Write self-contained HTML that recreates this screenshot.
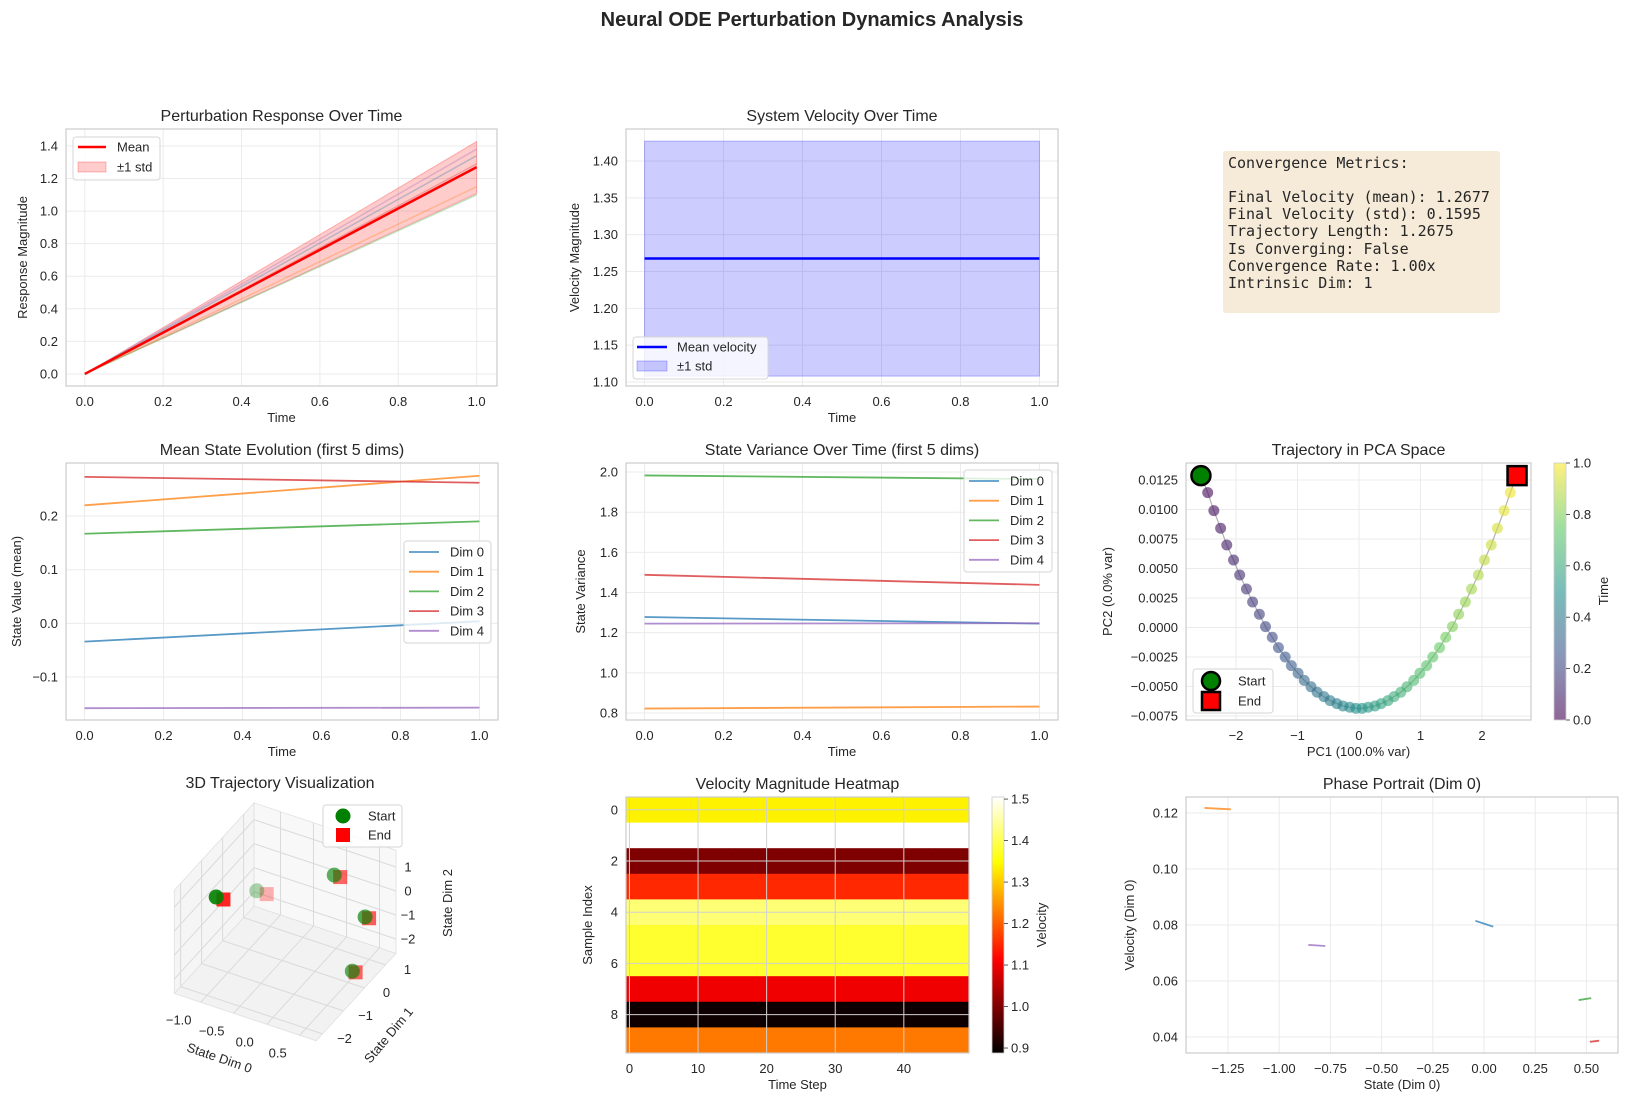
<!DOCTYPE html>
<html><head><meta charset="utf-8"><title>Neural ODE Perturbation Dynamics Analysis</title>
<style>
html,body{margin:0;padding:0;background:#fff;}
svg{display:block;font-family:"Liberation Sans",Arial,sans-serif;}
</style></head>
<body>
<svg id="fig" xmlns="http://www.w3.org/2000/svg" width="1625" height="1103" viewBox="0 0 1625 1103">
<rect x="0" y="0" width="1625" height="1103" fill="#ffffff"/>
<text x="812" y="26" text-anchor="middle" font-size="20" font-weight="bold" fill="#262626">Neural ODE Perturbation Dynamics Analysis</text>
<g>
<rect x="1223" y="151" width="277" height="162" rx="3" fill="#f6ebd8"/>
<g font-family="'DejaVu Sans Mono','Liberation Mono',monospace" font-size="15" fill="#262626">
<text x="1228" y="168">Convergence Metrics:</text>
<text x="1228" y="202">Final Velocity (mean): 1.2677</text>
<text x="1228" y="219">Final Velocity (std): 0.1595</text>
<text x="1228" y="236">Trajectory Length: 1.2675</text>
<text x="1228" y="254">Is Converging: False</text>
<text x="1228" y="271">Convergence Rate: 1.00x</text>
<text x="1228" y="288">Intrinsic Dim: 1</text>
</g></g>
</svg>
<script>
// ---------------- DATA ----------------
const respTimes = [0, 1];
const respMean = [0.0, 1.27];
const respLower = [0.0, 1.108];
const respUpper = [0.0, 1.427];
const respSampleEnds = [1.38, 1.34, 1.29, 1.15, 1.10];

const velTimes = [0, 1];
const velMean = [1.2677, 1.2677];
const velLower = [1.108, 1.108];
const velUpper = [1.427, 1.427];

const dimNames = ['Dim 0', 'Dim 1', 'Dim 2', 'Dim 3', 'Dim 4'];
const meanStart = [-0.034, 0.220, 0.167, 0.273, -0.158];
const meanEnd = [0.004, 0.275, 0.190, 0.262, -0.157];
const varStart = [1.278, 0.822, 1.983, 1.488, 1.245];
const varEnd = [1.245, 0.832, 1.965, 1.438, 1.247];

const pc1 = [-2.57,-2.46,-2.36,-2.25,-2.15,-2.04,-1.94,-1.83,-1.73,-1.62,-1.52,-1.41,-1.31,-1.20,-1.10,-0.99,-0.89,-0.78,-0.68,-0.57,-0.47,-0.36,-0.26,-0.15,-0.05,0.05,0.15,0.26,0.36,0.47,0.57,0.68,0.78,0.89,0.99,1.10,1.20,1.31,1.41,1.52,1.62,1.73,1.83,1.94,2.04,2.15,2.25,2.36,2.46,2.57];
const pc2 = [0.01287,0.01143,0.00990,0.00841,0.00699,0.00572,0.00445,0.00326,0.00216,0.00112,0.00007,-0.00083,-0.00171,-0.00250,-0.00323,-0.00388,-0.00448,-0.00502,-0.00549,-0.00586,-0.00620,-0.00645,-0.00665,-0.00676,-0.00685,-0.00685,-0.00676,-0.00665,-0.00645,-0.00620,-0.00586,-0.00549,-0.00502,-0.00448,-0.00388,-0.00323,-0.00250,-0.00171,-0.00083,0.00007,0.00112,0.00216,0.00326,0.00445,0.00572,0.00699,0.00841,0.00990,0.01143,0.01287];

const s3x = [-1.02, -1.2, -0.09, 0.6, 0.47];
const s3y = [-1.5, 1.0, 1.2, 0.5, 0.3];
const s3z = [1.0, -1.3, 0.18, -0.26, -2.45];
const e3x = [-0.91, -1.05, 0.0, 0.66, 0.52];
const e3y = [-1.5, 1.0, 1.2, 0.5, 0.3];
const e3z = [1.0, -1.3, 0.18, -0.26, -2.45];
const s3alpha = [1.0, 0.35, 0.7, 0.75, 0.7];

const heatRows = [1.336, 1.52, 1.00, 1.15, 1.42, 1.378, 1.378, 1.10, 0.90, 1.224];
const heatSteps = 50;

const phaseX0 = [-0.042, -1.365, 0.462, 0.517, -0.858];
const phaseX1 = [0.045, -1.236, 0.523, 0.562, -0.775];
const phaseY0 = [0.0815, 0.1218, 0.0532, 0.0383, 0.0729];
const phaseY1 = [0.0794, 0.1213, 0.0539, 0.0387, 0.0725];

const tab = ['#1f77b4', '#ff7f0e', '#2ca02c', '#d62728', '#9467bd'];

// ---------------- HELPERS ----------------
const NS = 'http://www.w3.org/2000/svg';
const svg = document.getElementById('fig');
function mk(tag, attrs, parent) {
  const e = document.createElementNS(NS, tag);
  for (const k in attrs) e.setAttribute(k, attrs[k]);
  (parent || svg).appendChild(e);
  return e;
}
function txt(str, x, y, attrs, parent) {
  const e = mk('text', Object.assign({x: x, y: y, fill: '#262626', 'font-size': 13}, attrs || {}), parent);
  e.textContent = str;
  return e;
}
function lin(d0, d1, r0, r1) { return v => r0 + (v - d0) / (d1 - d0) * (r1 - r0); }
function clamp(v) { return Math.max(0, Math.min(1, v)); }
function hot(t) {
  const r = clamp(t / 0.365), g = clamp((t - 0.365) / 0.381), b = clamp((t - 0.746) / 0.254);
  return 'rgb(' + Math.round(r * 255) + ',' + Math.round(g * 255) + ',' + Math.round(b * 255) + ')';
}
const virStops = [[68,1,84],[59,82,139],[33,145,140],[94,201,98],[253,231,37]];
function viridis(t) {
  t = clamp(t); const p = t * 4, i = Math.min(3, Math.floor(p)), f = p - i;
  const a = virStops[i], b = virStops[i + 1];
  return 'rgb(' + [0,1,2].map(k => Math.round(a[k] + (b[k] - a[k]) * f)).join(',') + ')';
}

function axes(cfg) {
  const g = mk('g', {});
  
  
  const sx = lin(cfg.xr[0], cfg.xr[1], cfg.L, cfg.R);
  const sy = lin(cfg.yr[0], cfg.yr[1], cfg.B, cfg.T);
  const bg = mk('rect', {x: cfg.L, y: cfg.T, width: cfg.R - cfg.L, height: cfg.B - cfg.T, fill: '#fff'}, g);
  
  
  cfg.xticks.forEach(v => {
    const X = sx(v);
    if (cfg.grid !== false) {
      const gl = mk('line', {x1: X, x2: X, y1: cfg.T, y2: cfg.B, stroke: '#ebebeb', 'stroke-width': 1}, g);
      
      
    }
    const t = txt(cfg.xfmt(v), X, cfg.B + 20, {'text-anchor': 'middle'}, g);
    
    
  });
  cfg.yticks.forEach(v => {
    const Y = sy(v);
    if (cfg.grid !== false) {
      const gl = mk('line', {x1: cfg.L, x2: cfg.R, y1: Y, y2: Y, stroke: '#ebebeb', 'stroke-width': 1}, g);
      
      
    }
    const t = txt(cfg.yfmt(v), cfg.L - 8, Y + 4.5, {'text-anchor': 'end'}, g);
    
    
  });
  const tt = txt(cfg.title, (cfg.L + cfg.R) / 2, cfg.T - 8, {'text-anchor': 'middle', 'font-size': 16}, g);
  
  
  const xl = txt(cfg.xlabel, (cfg.L + cfg.R) / 2, cfg.B + 36, {'text-anchor': 'middle'}, g);
  
  
  const yl = txt(cfg.ylabel, 0, 0, {'text-anchor': 'middle', transform: 'translate(' + cfg.ylx + ',' + ((cfg.T + cfg.B) / 2) + ') rotate(-90)'}, g);
  
  
  const plot = mk('g', {}, g);
  
  
  return {g, plot, sx, sy, cfg};
}
function frame(a) {
  const c = a.cfg;
  const f = mk('rect', {x: c.L, y: c.T, width: c.R - c.L, height: c.B - c.T, fill: 'none', stroke: '#cccccc', 'stroke-width': 1.2}, a.g);
  
  
}
function legendBox(x, y, w, h, parent) {
  const r = mk('rect', {x: x, y: y, width: w, height: h, rx: 3, fill: 'rgba(255,255,255,0.8)', stroke: '#d6d6d6', 'stroke-width': 1}, parent);
  
  
}
const range = (a, b, s) => { const o = []; for (let v = a; v <= b + 1e-9; v += s) o.push(+v.toFixed(6)); return o; };
const f1 = v => v.toFixed(1), f2 = v => v.toFixed(2);
const fm = s => s.replace('-', '\u2212');

// ---------------- PANEL 1: response ----------------
(function () {
  const a = axes({name: 'response-panel', L: 66, R: 497, T: 129, B: 386, xr: [-0.048, 1.052], yr: [-0.074, 1.504],
    xticks: range(0, 1, 0.2), yticks: range(0, 1.4, 0.2), xfmt: f1, yfmt: f1,
    title: 'Perturbation Response Over Time', xlabel: 'Time', ylabel: 'Response Magnitude', ylx: 27});
  const {sx, sy, plot} = a;
  const band = mk('polygon', {points: respTimes.map((t, i) => sx(t) + ',' + sy(respUpper[i])).concat(respTimes.slice().reverse().map((t, j) => sx(t) + ',' + sy(respLower[respTimes.length - 1 - j]))).join(' '), fill: 'rgba(255,0,0,0.2)', stroke: 'rgba(255,0,0,0.25)'}, plot);
  
  
  respSampleEnds.forEach((v, i) => {
    const l = mk('line', {x1: sx(0), y1: sy(0), x2: sx(1), y2: sy(v), stroke: tab[[4, 0, 3, 1, 2][i]], 'stroke-opacity': 0.3, 'stroke-width': 1.5}, plot);
    
    
  });
  const m = mk('polyline', {points: respTimes.map((t, i) => sx(t) + ',' + sy(respMean[i])).join(' '), fill: 'none', stroke: '#ff0000', 'stroke-width': 2.5}, plot);
  
  
  frame(a);
  legendBox(73, 137, 87, 43, a.g);
  const h1 = mk('line', {x1: 78, x2: 106, y1: 147, y2: 147, stroke: '#f00', 'stroke-width': 2.5}, a.g);
  
  
  const t1 = txt('Mean', 117, 151.5, {}, a.g);
  
  
  const h2 = mk('rect', {x: 78, y: 162, width: 28, height: 10, fill: 'rgba(255,0,0,0.2)', stroke: 'rgba(255,0,0,0.25)'}, a.g);
  
  
  const t2 = txt('\u00b11 std', 117, 171.5, {}, a.g);
  
  
})();

// ---------------- PANEL 2: velocity ----------------
(function () {
  const a = axes({name: 'velocity-panel', L: 626, R: 1058, T: 129, B: 386, xr: [-0.047, 1.047], yr: [1.0946, 1.4434],
    xticks: range(0, 1, 0.2), yticks: range(1.10, 1.40, 0.05), xfmt: f1, yfmt: f2,
    title: 'System Velocity Over Time', xlabel: 'Time', ylabel: 'Velocity Magnitude', ylx: 579});
  const {sx, sy, plot} = a;
  const band = mk('polygon', {points: [sx(velTimes[0]) + ',' + sy(velUpper[0]), sx(velTimes[1]) + ',' + sy(velUpper[1]), sx(velTimes[1]) + ',' + sy(velLower[1]), sx(velTimes[0]) + ',' + sy(velLower[0])].join(' '), fill: 'rgba(0,0,255,0.2)', stroke: 'rgba(0,0,255,0.25)'}, plot);
  
  
  const m = mk('polyline', {points: velTimes.map((t, i) => sx(t) + ',' + sy(velMean[i])).join(' '), fill: 'none', stroke: '#0000ff', 'stroke-width': 2.5}, plot);
  
  
  frame(a);
  legendBox(633, 337, 135, 42, a.g);
  const h1 = mk('line', {x1: 637, x2: 667, y1: 347, y2: 347, stroke: '#00f', 'stroke-width': 2.5}, a.g);
  
  
  const t1 = txt('Mean velocity', 677, 351.5, {}, a.g);
  
  
  const h2 = mk('rect', {x: 637, y: 361, width: 30, height: 10, fill: 'rgba(0,0,255,0.2)', stroke: 'rgba(0,0,255,0.25)'}, a.g);
  
  
  const t2 = txt('\u00b11 std', 677, 370.5, {}, a.g);
  
  
})();

// ---------------- PANEL 4 & 5: dims ----------------
function dimPanel(name, L, R, yr, yt, yfmt, title, ylabel, ylx, st, en, lg) {
  const a = axes({name: name, L: L, R: R, T: 463, B: 720, xr: [-0.047, 1.047], yr: yr,
    xticks: range(0, 1, 0.2), yticks: yt, xfmt: f1, yfmt: yfmt, title: title, xlabel: 'Time', ylabel: ylabel, ylx: ylx});
  const {sx, sy, plot} = a;
  st.forEach((v, i) => {
    const l = mk('line', {x1: sx(0), y1: sy(v), x2: sx(1), y2: sy(en[i]), stroke: tab[i], 'stroke-opacity': 0.75, 'stroke-width': 1.8}, plot);
    
    
  });
  frame(a);
  legendBox(lg[0], lg[1], lg[2], 102, a.g);
  dimNames.forEach((n, i) => {
    const y = lg[1] + 11 + i * 19.7;
    const h = mk('line', {x1: lg[0] + 5, x2: lg[0] + 35, y1: y, y2: y, stroke: tab[i], 'stroke-opacity': 0.75, 'stroke-width': 1.8}, a.g);
    
    
    const t = txt(n, lg[0] + 46, y + 4.5, {}, a.g);
    
    
  });
}
dimPanel('mean-state-panel', 66, 498, [-0.180, 0.2988], [-0.1, 0, 0.1, 0.2], v => fm(v.toFixed(1)), 'Mean State Evolution (first 5 dims)', 'State Value (mean)', 21, meanStart, meanEnd, [404, 541, 87]);
dimPanel('state-variance-panel', 626, 1058, [0.765, 2.045], range(0.8, 2.0, 0.2), f1, 'State Variance Over Time (first 5 dims)', 'State Variance', 585, varStart, varEnd, [964, 470, 88]);

// ---------------- PANEL 6: PCA ----------------
(function () {
  const a = axes({name: 'pca-panel', L: 1186, R: 1531, T: 463, B: 720, xr: [-2.813, 2.797], yr: [-0.00784, 0.01394],
    xticks: [-2, -1, 0, 1, 2], yticks: range(-0.0075, 0.0125, 0.0025), xfmt: v => fm(String(v)), yfmt: v => fm(v.toFixed(4)),
    title: 'Trajectory in PCA Space', xlabel: 'PC1 (100.0% var)', ylabel: 'PC2 (0.0% var)', ylx: 1112});
  const {sx, sy, plot} = a;
  const path = mk('polyline', {points: pc1.map((v, i) => sx(v) + ',' + sy(pc2[i])).join(' '), fill: 'none', stroke: '#000', 'stroke-opacity': 0.3, 'stroke-width': 1.2}, plot);
  
  
  pc1.forEach((v, i) => {
    const c = mk('circle', {cx: sx(v), cy: sy(pc2[i]), r: 5.5, fill: viridis(i / (pc1.length - 1)), 'fill-opacity': 0.6}, plot);
    
    
  });
  const s = mk('circle', {cx: sx(pc1[0]), cy: sy(pc2[0]), r: 9.5, fill: '#008000', stroke: '#000', 'stroke-width': 2.5}, plot);
  
  
  const n = pc1.length - 1;
  const e = mk('rect', {x: sx(pc1[n]) - 9.5, y: sy(pc2[n]) - 9.5, width: 19, height: 19, fill: '#ff0000', stroke: '#000', 'stroke-width': 2.5}, plot);
  
  
  frame(a);
  legendBox(1193, 669, 80, 44, a.g);
  const lc = mk('circle', {cx: 1211, cy: 681, r: 9, fill: '#008000', stroke: '#000', 'stroke-width': 2.5}, a.g);
  
  
  const lt = txt('Start', 1238, 685.5, {}, a.g);
  
  
  const ls = mk('rect', {x: 1202, y: 692, width: 18, height: 18, fill: '#f00', stroke: '#000', 'stroke-width': 2.5}, a.g);
  
  
  const le = txt('End', 1238, 705.5, {}, a.g);
  
  
  // colorbar
  const defs = mk('defs', {});
  const grad = mk('linearGradient', {id: 'virgrad', x1: 0, y1: 1, x2: 0, y2: 0}, defs);
  for (let k = 0; k <= 20; k++) mk('stop', {offset: k / 20, 'stop-color': viridis(k / 20), 'stop-opacity': 0.6}, grad);
  const cb = mk('rect', {x: 1554, y: 463, width: 12, height: 257, fill: 'url(#virgrad)', stroke: '#ccc', 'stroke-width': 0.8});
  
  
  const cy = lin(0, 1, 720, 463);
  range(0, 1, 0.2).forEach(v => {
    const tk = mk('line', {x1: 1566, x2: 1570, y1: cy(v), y2: cy(v), stroke: '#333', 'stroke-width': 0.8});
    
    
    const t = txt(v.toFixed(1), 1573, cy(v) + 4.5, {});
    
    
  });
  const cl = txt('Time', 0, 0, {'text-anchor': 'middle', transform: 'translate(1608,591) rotate(-90)'});
  
  
})();

// ---------------- PANEL 7: 3D ----------------
(function () {
  const g = mk('g', {});
  
  
  const xb = [-1.4, 0.75], yb = [-2.3, 1.5], zb = [-2.6, 1.7];
  const P = (x, y, z) => [315 + 66 * x + 21 * y, 909 + 22 * x - 23 * y - 24 * z];
  const poly = (pts, name, fill) => {
    const p = mk('polygon', {points: pts.map(q => P(q[0], q[1], q[2]).join(',')).join(' '), fill: fill, stroke: '#e0e0e0', 'stroke-width': 0.8}, g);
    
    
  };
  poly([[xb[0], yb[0], zb[0]], [xb[1], yb[0], zb[0]], [xb[1], yb[1], zb[0]], [xb[0], yb[1], zb[0]]], 'floor-pane', '#f2f2f2');
  poly([[xb[0], yb[0], zb[0]], [xb[0], yb[1], zb[0]], [xb[0], yb[1], zb[1]], [xb[0], yb[0], zb[1]]], 'left-pane', '#f5f5f5');
  poly([[xb[0], yb[1], zb[0]], [xb[1], yb[1], zb[0]], [xb[1], yb[1], zb[1]], [xb[0], yb[1], zb[1]]], 'back-pane', '#f8f8f8');
  const seg = (a, b, name) => {
    const A = P(a[0], a[1], a[2]), B = P(b[0], b[1], b[2]);
    const l = mk('line', {x1: A[0], y1: A[1], x2: B[0], y2: B[1], stroke: '#dadada', 'stroke-width': 1}, g);
    
    
  };
  const xt = [-1.0, -0.5, 0.0, 0.5], yt = [-2, -1, 0, 1], zt = [-2, -1, 0, 1];
  xt.forEach(v => { seg([v, yb[0], zb[0]], [v, yb[1], zb[0]], 'x-gridline'); seg([v, yb[1], zb[0]], [v, yb[1], zb[1]], 'x-gridline'); });
  yt.forEach(v => { seg([xb[0], v, zb[0]], [xb[1], v, zb[0]], 'y-gridline'); seg([xb[0], v, zb[0]], [xb[0], v, zb[1]], 'y-gridline'); });
  zt.forEach(v => { seg([xb[0], yb[0], v], [xb[0], yb[1], v], 'z-gridline'); seg([xb[0], yb[1], v], [xb[1], yb[1], v], 'z-gridline'); });
  xt.forEach(v => {
    const p = P(v, yb[0], zb[0]);
    const t = txt(fm(v.toFixed(1)), p[0] - 22, p[1] + 22, {'text-anchor': 'middle'}, g);
    
    
  });
  yt.forEach(v => {
    const p = P(xb[1], v, zb[0]);
    const t = txt(fm(String(v)), p[0] + 22, p[1] + 9, {'text-anchor': 'middle'}, g);
    
    
  });
  zt.forEach(v => {
    const p = P(xb[1], yb[1], v);
    const t = txt(fm(String(v)), p[0] + 12, p[1] + 4.5, {'text-anchor': 'middle'}, g);
    
    
  });
  const al0 = txt('State Dim 0', 0, 0, {'text-anchor': 'middle', transform: 'translate(218,1062) rotate(19)'}, g);
  
  
  const al1 = txt('State Dim 1', 0, 0, {'text-anchor': 'middle', transform: 'translate(392,1038) rotate(-50)'}, g);
  
  
  const al2 = txt('State Dim 2', 0, 0, {'text-anchor': 'middle', transform: 'translate(452,903) rotate(-90)'}, g);
  
  
  const tt = txt('3D Trajectory Visualization', 280, 788, {'text-anchor': 'middle', 'font-size': 16}, g);
  
  
  s3x.forEach((v, i) => {
    const pe = P(e3x[i], e3y[i], e3z[i]);
    const sq = mk('rect', {x: pe[0] - 7, y: pe[1] - 7, width: 14, height: 14, fill: '#ff0000', 'fill-opacity': s3alpha[i] * 0.85}, g);
    
    
    const ps = P(v, s3y[i], s3z[i]);
    const c = mk('circle', {cx: ps[0], cy: ps[1], r: 7.5, fill: '#008000', 'fill-opacity': s3alpha[i] * 0.9}, g);
    
    
  });
  legendBox(323, 805, 79, 42, g);
  const lc = mk('circle', {cx: 343, cy: 816, r: 7.5, fill: '#008000'}, g);
  
  
  const lt = txt('Start', 368, 820.5, {}, g);
  
  
  const ls = mk('rect', {x: 336, y: 828, width: 14, height: 14, fill: '#f00'}, g);
  
  
  const le = txt('End', 368, 839.5, {}, g);
  
  
})();

// ---------------- PANEL 8: heatmap ----------------
(function () {
  const a = axes({name: 'velocity-heatmap-panel', L: 626, R: 969, T: 797, B: 1053, xr: [-0.5, heatSteps - 0.5], yr: [9.5, -0.5],
    xticks: [0, 10, 20, 30, 40], yticks: [0, 2, 4, 6, 8], xfmt: String, yfmt: String, grid: false,
    title: 'Velocity Magnitude Heatmap', xlabel: 'Time Step', ylabel: 'Sample Index', ylx: 592});
  const {sx, sy, plot} = a;
  const vmin = 0.888, vmax = 1.505;
  heatRows.forEach((v, r) => {
    for (let t = 0; t < heatSteps; t++) {
      const c = mk('rect', {x: sx(t - 0.5), y: sy(r - 0.5), width: sx(t + 0.5) - sx(t - 0.5) + 0.4, height: sy(r + 0.5) - sy(r - 0.5) + 0.4, fill: hot((v - vmin) / (vmax - vmin))}, plot);
      
      
    }
  });
  [0, 10, 20, 30, 40].forEach(v => {
    const l = mk('line', {x1: sx(v), x2: sx(v), y1: 797, y2: 1053, stroke: '#d0d0d0', 'stroke-width': 1}, plot);
    
    
  });
  [0, 2, 4, 6, 8].forEach(v => {
    const l = mk('line', {x1: 626, x2: 969, y1: sy(v), y2: sy(v), stroke: '#d0d0d0', 'stroke-width': 1}, plot);
    
    
  });
  frame(a);
  const defs = mk('defs', {});
  const grad = mk('linearGradient', {id: 'hotgrad', x1: 0, y1: 1, x2: 0, y2: 0}, defs);
  for (let k = 0; k <= 40; k++) mk('stop', {offset: k / 40, 'stop-color': hot(k / 40)}, grad);
  const cb = mk('rect', {x: 992, y: 797, width: 12, height: 256, fill: 'url(#hotgrad)', stroke: '#ccc', 'stroke-width': 0.8});
  
  
  const cy = lin(vmin, vmax, 1053, 797);
  range(0.9, 1.5, 0.1).forEach(v => {
    const tk = mk('line', {x1: 1004, x2: 1008, y1: cy(v), y2: cy(v), stroke: '#333', 'stroke-width': 0.8});
    
    
    const t = txt(v.toFixed(1), 1011, cy(v) + 4.5, {});
    
    
  });
  const cl = txt('Velocity', 0, 0, {'text-anchor': 'middle', transform: 'translate(1046,925) rotate(-90)'});
  
  
})();

// ---------------- PANEL 9: phase portrait ----------------
(function () {
  const a = axes({name: 'phase-portrait-panel', L: 1186, R: 1618, T: 797, B: 1053, xr: [-1.455, 0.654], yr: [0.0343, 0.1257],
    xticks: range(-1.25, 0.5, 0.25), yticks: range(0.04, 0.12, 0.02), xfmt: v => fm(v.toFixed(2)), yfmt: f2,
    title: 'Phase Portrait (Dim 0)', xlabel: 'State (Dim 0)', ylabel: 'Velocity (Dim 0)', ylx: 1134});
  const {sx, sy, plot} = a;
  phaseX0.forEach((v, i) => {
    const l = mk('line', {x1: sx(v), y1: sy(phaseY0[i]), x2: sx(phaseX1[i]), y2: sy(phaseY1[i]), stroke: tab[i], 'stroke-opacity': 0.75, 'stroke-width': 1.8}, plot);
    
    
  });
  frame(a);
})();
</script>
</body></html>
